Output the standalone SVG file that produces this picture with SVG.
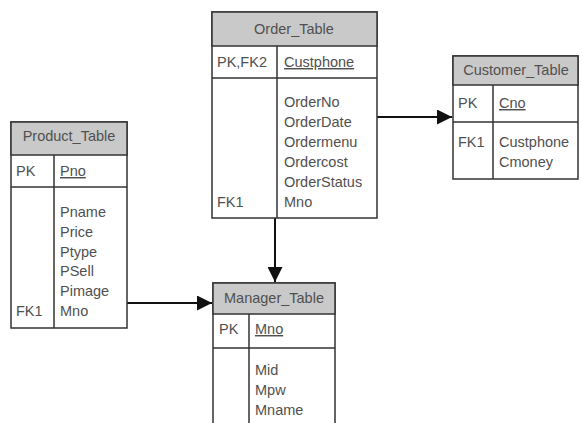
<svg xmlns="http://www.w3.org/2000/svg" width="582" height="423" viewBox="0 0 582 423">
<style>
.box{fill:#fff;stroke:#333;stroke-width:1.5}
.hdr{fill:#c9c9c9;stroke:#333;stroke-width:1.5}
.ln{stroke:#333;stroke-width:1.5;fill:none}
text{font-family:"Liberation Sans",Arial,sans-serif;font-size:14.5px;fill:#505050}
.t{text-anchor:middle}
.u{text-decoration:underline}
.c{stroke:#111;stroke-width:2;fill:none}
</style>
<defs>
<marker id="ah" viewBox="0 0 10 10" refX="10" refY="5" markerWidth="7.5" markerHeight="7.5" orient="auto" markerUnits="strokeWidth">
<path d="M0,0 L10,5 L0,10 z" fill="#111"/>
</marker>
</defs>
<rect width="582" height="423" fill="#fff"/>
<g id="connectors">
<line class="c" x1="377" y1="117" x2="452" y2="117" marker-end="url(#ah)"/>
<line class="c" x1="275" y1="218" x2="275" y2="282" marker-end="url(#ah)"/>
<line class="c" x1="127" y1="303" x2="212" y2="303" marker-end="url(#ah)"/>
</g>
<g id="order_table">
<rect class="box" x="212" y="12" width="165" height="206"/>
<rect class="hdr" x="212" y="12" width="165" height="34"/>
<line class="ln" x1="212" y1="78" x2="377" y2="78"/>
<line class="ln" x1="277" y1="46" x2="277" y2="218"/>
<text class="t" x="294" y="34">Order_Table</text>
<text x="217" y="67">PK,FK2</text>
<text class="u" x="284" y="67">Custphone</text>
<text x="284" y="107">OrderNo</text>
<text x="284" y="127">OrderDate</text>
<text x="284" y="147">Ordermenu</text>
<text x="284" y="167">Ordercost</text>
<text x="284" y="187">OrderStatus</text>
<text x="284" y="207">Mno</text>
<text x="217" y="207">FK1</text>
</g>
<g id="customer_table">
<rect class="box" x="453" y="56" width="125" height="123"/>
<rect class="hdr" x="453" y="56" width="125" height="29"/>
<line class="ln" x1="453" y1="122" x2="578" y2="122"/>
<line class="ln" x1="493" y1="85" x2="493" y2="179"/>
<text class="t" x="516" y="75">Customer_Table</text>
<text x="458" y="108">PK</text>
<text class="u" x="499" y="108">Cno</text>
<text x="458" y="147">FK1</text>
<text x="499" y="147">Custphone</text>
<text x="499" y="167">Cmoney</text>
</g>
<g id="product_table">
<rect class="box" x="11" y="122" width="116" height="206"/>
<rect class="hdr" x="11" y="122" width="116" height="33"/>
<line class="ln" x1="11" y1="187" x2="127" y2="187"/>
<line class="ln" x1="54" y1="155" x2="54" y2="328"/>
<text class="t" x="69" y="141">Product_Table</text>
<text x="16" y="176">PK</text>
<text class="u" x="60" y="176">Pno</text>
<text x="60" y="217">Pname</text>
<text x="60" y="237">Price</text>
<text x="60" y="257">Ptype</text>
<text x="60" y="276">PSell</text>
<text x="60" y="296">Pimage</text>
<text x="60" y="316">Mno</text>
<text x="16" y="316">FK1</text>
</g>
<g id="manager_table">
<path class="box" d="M213,430 L213,283 L335,283 L335,430"/>
<rect class="hdr" x="213" y="283" width="122" height="31"/>
<line class="ln" x1="213" y1="348" x2="335" y2="348"/>
<line class="ln" x1="249" y1="314" x2="249" y2="430"/>
<text class="t" x="274" y="303">Manager_Table</text>
<text x="219" y="334">PK</text>
<text class="u" x="255" y="334">Mno</text>
<text x="255" y="375">Mid</text>
<text x="255" y="395">Mpw</text>
<text x="255" y="415">Mname</text>
</g>
</svg>
